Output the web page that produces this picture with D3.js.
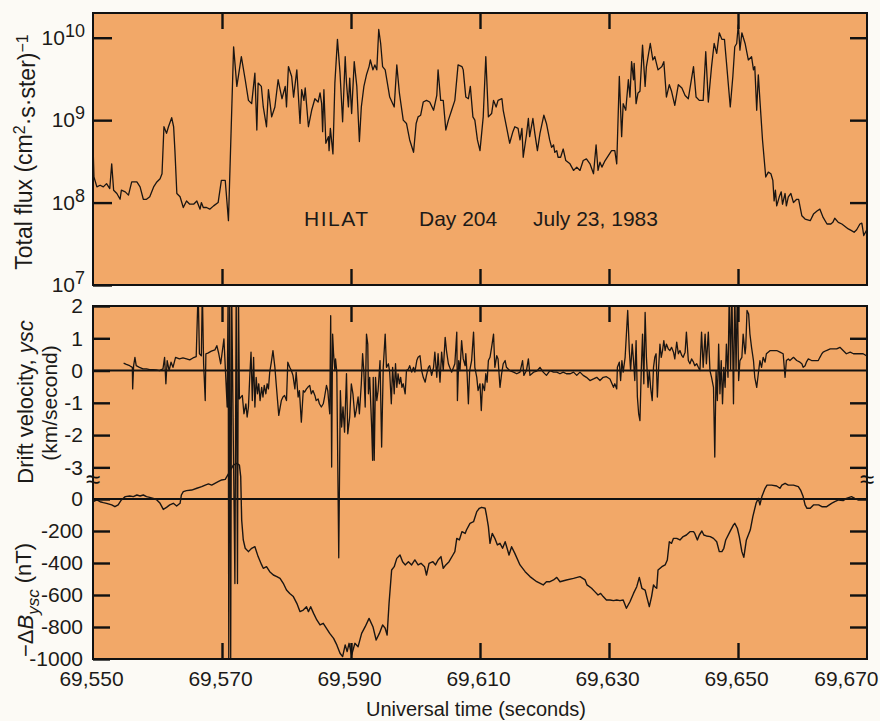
<!DOCTYPE html>
<html>
<head>
<meta charset="utf-8">
<script src="https://cdn.jsdelivr.net/npm/d3@7/dist/d3.min.js"></script>
<style>
  body { margin: 0; background: #fcfaf5; }
  svg { display: block; font-family: "Liberation Sans", Arial, sans-serif; }
  .tick text { font-size: 21px; fill: #1c1a18; }
  .tick line { stroke: #111; stroke-width: 2.4; }
</style>
</head>
<body>
<svg id="chart"></svg>
<script>
// time axis (seconds UT)
var timeTicks = [69550, 69570, 69590, 69610, 69630, 69650, 69670];
var fluxTicks = [1e7, 1e8, 1e9, 1e10];
var velTicks = [-3, -2, -1, 0, 1, 2];
var dbTicks = [-1000, -800, -600, -400, -200, 0];

// total flux, [time, log10(flux)]
var flux = [
  [69550.0,8.70],[69550.15,8.31],[69550.6,8.19],[69551.1,8.21],[69551.6,8.19],[69552.1,8.23],[69552.6,8.17],[69552.9,8.47],
  [69553.2,8.15],[69553.7,8.11],[69554.2,8.04],[69554.4,8.15],[69555.0,8.13],[69555.5,8.09],[69556.0,8.25],[69556.8,8.25],
  [69557.3,8.19],[69557.8,8.04],[69558.3,8.04],[69558.8,8.07],[69559.4,8.19],[69559.9,8.25],[69560.4,8.29],[69560.7,8.35],
  [69561.0,8.92],[69561.4,8.84],[69561.7,8.92],[69562.2,9.03],[69562.5,8.92],[69562.7,8.63],[69563.0,8.11],[69563.5,8.07],
  [69564.0,7.94],[69564.5,8.02],[69565.0,7.98],[69565.6,7.98],[69566.1,8.02],[69566.6,7.92],[69566.8,8.00],[69567.1,7.94],
  [69567.6,7.94],[69568.1,7.92],[69568.7,7.96],[69569.4,8.00],[69569.9,8.27],[69570.5,8.27],[69571.0,7.78],[69571.8,9.89],
  [69572.3,9.41],[69573.0,9.77],[69573.6,9.49],[69574.1,9.24],[69574.6,9.20],[69575.1,9.57],[69575.4,8.88],[69575.6,9.45],
  [69576.1,9.41],[69576.4,9.16],[69576.9,8.92],[69577.2,9.37],[69577.7,9.04],[69578.2,9.16],[69578.7,9.49],[69579.3,9.26],
  [69579.8,9.41],[69580.0,9.16],[69580.3,9.65],[69580.8,9.53],[69581.1,9.28],[69581.6,9.61],[69582.1,8.96],[69582.35,9.37],
  [69582.7,9.24],[69582.9,9.39],[69583.1,9.20],[69583.4,8.92],[69583.9,9.12],[69584.4,9.26],[69584.9,9.22],[69585.2,9.33],
  [69585.45,9.20],[69585.6,8.86],[69585.8,9.37],[69586.1,8.72],[69586.5,8.80],[69586.6,8.63],[69586.8,8.90],[69587.2,8.59],
  [69587.5,9.45],[69587.9,9.98],[69588.3,9.57],[69588.7,8.98],[69589.1,9.77],[69589.3,9.45],[69589.6,9.16],[69589.8,9.51],
  [69590.1,9.08],[69590.5,9.71],[69590.9,9.41],[69591.3,8.74],[69591.6,9.16],[69592.0,9.41],[69592.4,9.55],[69592.8,9.65],
  [69593.0,9.73],[69593.4,9.61],[69593.7,9.67],[69594.0,9.61],[69594.3,10.10],[69594.6,9.93],[69594.9,9.65],[69595.3,9.61],
  [69596.0,9.28],[69596.7,9.16],[69597.1,9.67],[69597.5,9.33],[69598.1,9.00],[69598.6,8.96],[69599.1,8.76],[69599.7,8.61],
  [69600.1,8.96],[69600.4,9.04],[69600.8,9.06],[69601.2,9.22],[69601.7,9.24],[69602.2,9.22],[69602.8,9.12],[69603.3,9.30],
  [69603.5,9.61],[69603.9,9.24],[69604.3,9.24],[69604.7,8.88],[69605.1,9.00],[69605.6,9.12],[69606.1,9.24],[69606.6,9.67],
  [69607.2,9.65],[69607.4,9.61],[69607.8,9.28],[69608.2,9.26],[69608.5,9.41],[69608.9,9.04],[69609.2,9.00],[69609.6,8.76],
  [69610.0,8.63],[69610.5,9.04],[69610.9,9.77],[69611.3,9.04],[69611.8,9.08],[69612.1,9.24],[69612.5,9.16],[69612.8,9.24],
  [69613.4,9.26],[69613.6,9.12],[69614.1,8.92],[69614.6,8.72],[69615.1,8.86],[69615.4,8.92],[69615.9,8.90],[69616.2,8.76],
  [69616.5,8.90],[69616.7,8.55],[69617.2,8.82],[69617.5,9.02],[69617.7,8.80],[69618.2,9.02],[69618.5,8.84],[69618.9,8.63],
  [69619.3,8.84],[69619.9,9.06],[69620.3,8.96],[69620.8,8.76],[69621.1,8.67],[69621.4,8.70],[69621.6,8.61],[69621.9,8.63],
  [69622.1,8.55],[69622.5,8.55],[69622.9,8.65],[69623.3,8.51],[69623.95,8.47],[69624.5,8.39],[69625.0,8.43],[69625.5,8.39],
  [69626.0,8.51],[69626.5,8.53],[69627.05,8.47],[69627.6,8.35],[69628.0,8.70],[69628.3,8.39],[69628.6,8.49],[69628.9,8.43],
  [69629.4,8.51],[69629.9,8.57],[69630.4,8.63],[69630.9,8.63],[69631.2,8.47],[69631.6,9.53],[69631.96,8.80],[69632.2,9.20],
  [69632.6,9.12],[69633.0,9.49],[69633.25,9.28],[69633.5,9.71],[69633.8,9.49],[69633.9,9.69],[69634.2,9.20],[69634.5,9.33],
  [69634.8,9.35],[69635.2,9.91],[69635.6,9.41],[69635.8,9.65],[69636.4,9.93],[69636.8,9.73],[69637.1,9.77],[69637.6,9.61],
  [69638.2,9.65],[69638.5,9.71],[69638.9,9.28],[69639.35,9.43],[69639.7,9.35],[69640.2,9.18],[69640.75,9.43],[69641.3,9.39],
  [69641.8,9.30],[69642.3,9.26],[69643.1,9.65],[69643.5,9.28],[69644.0,9.24],[69644.6,9.24],[69645.0,9.83],[69645.4,9.22],
  [69645.9,9.65],[69646.3,9.93],[69646.7,9.81],[69647.1,10.06],[69647.5,9.98],[69647.9,9.98],[69648.2,9.71],[69648.8,9.16],
  [69649.2,9.53],[69649.5,9.89],[69649.8,9.93],[69650.05,10.16],[69650.3,9.85],[69650.6,10.06],[69651.1,9.93],[69651.6,9.73],
  [69652.1,9.77],[69652.4,9.61],[69652.6,9.65],[69652.9,9.12],[69653.15,9.55],[69653.4,9.24],[69653.8,8.76],[69654.3,8.31],
  [69654.7,8.37],[69655.1,8.35],[69655.4,8.27],[69655.6,8.02],[69655.8,8.15],[69656.0,7.96],[69656.4,8.07],[69656.7,8.13],
  [69656.9,7.98],[69657.3,8.11],[69657.5,7.96],[69657.8,8.07],[69658.2,8.11],[69658.6,8.00],[69659.1,8.04],[69659.4,8.04],
  [69659.9,7.84],[69660.4,7.80],[69661.2,7.78],[69661.7,7.86],[69662.3,7.90],[69662.7,7.92],[69663.2,7.82],[69663.8,7.74],
  [69664.4,7.74],[69664.7,7.76],[69665.0,7.81],[69665.55,7.76],[69666.1,7.74],[69666.6,7.71],[69667.1,7.68],[69667.6,7.66],
  [69668.0,7.64],[69668.4,7.67],[69668.9,7.74],[69669.2,7.75],[69669.5,7.60],[69669.9,7.66]
];

// drift velocity ysc, [time, km/s]
var vel = [
  [69554.75,0.23],[69555.17,0.19],[69555.68,0.15],[69556.1,0.10],[69556.15,-0.57],[69556.3,0.15],[69556.5,0.41],[69556.7,0.15],
  [69557.2,0.10],[69557.75,0.05],[69558.3,0.05],[69558.8,0.03],[69559.3,0.03],[69559.8,0.02],[69560.3,0.00],[69560.85,0.05],
  [69561.1,0.41],[69561.3,-0.41],[69561.5,0.31],[69561.8,0.00],[69562.1,0.26],[69562.4,0.10],[69562.8,0.41],[69563.4,0.36],
  [69563.95,0.39],[69564.5,0.36],[69565.0,0.33],[69565.5,0.39],[69566.0,0.43],[69566.3,2.5],[69566.5,0.52],[69566.8,0.46],
  [69566.95,2.5],[69567.15,0.21],[69567.4,-0.93],[69567.5,0.52],[69567.8,0.54],[69568.35,0.60],[69568.9,0.64],[69569.2,0.77],
  [69569.5,0.52],[69569.8,0.21],[69570.3,0.98],[69570.8,-1.13],[69570.95,2.5],[69571.05,-9.0],[69571.2,2.5],[69571.35,-9.0],
  [69571.5,2.5],[69572.0,-6.6],[69572.2,2.5],[69572.4,-6.6],[69572.55,2.5],[69572.7,-0.88],[69573.15,-0.77],[69573.4,-1.34],
  [69573.7,-1.03],[69573.9,-1.44],[69574.1,-1.13],[69574.3,-0.21],[69574.5,0.57],[69574.7,-0.93],[69574.9,0.41],[69575.1,-1.13],
  [69575.3,-0.21],[69575.5,-0.72],[69575.7,-0.41],[69575.9,-0.93],[69576.15,-0.52],[69576.35,-0.82],[69576.55,-0.46],[69576.8,-0.72],
  [69577.0,-0.41],[69577.2,-0.57],[69577.4,-0.05],[69577.65,0.26],[69577.9,0.62],[69578.2,0.10],[69578.4,-0.41],[69578.8,-1.39],
  [69579.2,-0.93],[69579.45,-0.82],[69579.7,-0.77],[69580.0,-0.93],[69580.2,0.26],[69580.5,0.10],[69580.75,0.00],[69581.0,-0.15],
  [69581.3,-0.57],[69581.5,-0.05],[69581.8,-0.82],[69582.0,-0.62],[69582.3,-1.60],[69582.6,-0.62],[69582.8,-0.67],[69583.1,-0.57],
  [69583.3,-0.52],[69583.6,-0.46],[69583.85,-0.72],[69584.1,-0.62],[69584.4,-0.77],[69584.6,-0.93],[69584.9,-0.88],[69585.1,-1.03],
  [69585.4,-1.13],[69585.7,-1.03],[69585.9,-0.82],[69586.2,-0.46],[69586.4,-0.62],[69586.7,-1.34],[69586.85,1.70],[69587.0,-2.99],
  [69587.15,1.13],[69587.3,0.52],[69587.5,0.00],[69587.6,0.36],[69587.8,-0.05],[69588.1,-5.8],[69588.35,-0.62],[69588.55,-1.75],
  [69588.76,-1.13],[69589.0,-1.91],[69589.3,-0.10],[69589.5,-1.96],[69589.8,-1.44],[69590.05,-0.41],[69590.3,-0.72],[69590.6,-1.44],
  [69590.8,-1.24],[69591.1,-0.82],[69591.3,-1.34],[69591.6,-0.41],[69591.8,0.52],[69592.0,-0.05],[69592.2,-1.13],[69592.4,1.13],
  [69592.6,0.82],[69592.7,-0.72],[69592.9,-0.21],[69593.2,-1.75],[69593.35,-2.78],[69593.45,-0.21],[69593.6,-2.78],[69593.8,-0.21],
  [69594.0,-0.93],[69594.2,-0.62],[69594.5,0.31],[69594.75,-2.37],[69595.0,0.10],[69595.3,1.13],[69595.5,0.10],[69595.8,0.21],
  [69596.0,-0.05],[69596.25,-1.03],[69596.45,0.10],[69596.7,-0.72],[69596.9,0.21],[69597.1,-0.52],[69597.3,-0.10],[69597.5,-0.41],
  [69597.7,-0.21],[69597.9,-0.52],[69598.1,-0.41],[69598.4,-0.72],[69598.6,0.00],[69598.9,0.05],[69599.1,0.15],[69599.4,-0.05],
  [69599.7,0.10],[69599.9,-0.05],[69600.2,0.31],[69600.4,0.41],[69600.7,0.46],[69600.95,0.00],[69601.2,-0.21],[69601.5,-0.36],
  [69601.7,-0.15],[69602.0,0.10],[69602.2,0.15],[69602.5,-0.15],[69602.8,0.10],[69603.0,0.57],[69603.3,-0.21],[69603.5,0.52],
  [69603.8,-0.36],[69604.05,0.57],[69604.3,0.00],[69604.6,1.03],[69604.8,0.62],[69605.1,0.21],[69605.3,0.10],[69605.6,-0.05],
  [69605.9,0.10],[69606.1,0.21],[69606.4,1.19],[69606.5,-0.93],[69606.7,0.31],[69606.9,0.00],[69607.15,0.93],[69607.4,0.36],
  [69607.7,0.15],[69607.8,0.52],[69608.0,-0.10],[69608.2,-1.03],[69608.4,0.00],[69608.7,0.31],[69609.0,1.19],[69609.2,0.10],
  [69609.5,-0.21],[69609.7,-0.62],[69610.0,-0.41],[69610.2,-1.24],[69610.4,-0.41],[69610.7,-0.62],[69610.9,-0.10],[69611.1,-0.36],
  [69611.3,0.31],[69611.55,0.41],[69611.8,0.72],[69612.1,1.13],[69612.3,0.10],[69612.6,0.46],[69612.8,0.36],[69613.1,-0.52],
  [69613.35,-0.10],[69613.6,0.21],[69613.9,0.31],[69614.1,0.10],[69614.6,0.00],[69615.2,-0.05],[69615.7,-0.10],[69616.2,-0.05],
  [69616.6,0.31],[69616.8,-0.15],[69617.2,0.00],[69617.5,0.36],[69617.75,-0.15],[69618.3,-0.05],[69618.8,-0.02],[69619.3,0.10],
  [69619.8,-0.05],[69620.3,-0.15],[69620.85,0.00],[69621.4,-0.05],[69621.9,-0.05],[69622.4,-0.10],[69622.9,-0.05],[69623.4,-0.10],
  [69624.0,-0.10],[69624.5,-0.05],[69625.0,-0.15],[69625.5,-0.05],[69626.0,-0.15],[69626.5,-0.21],[69627.05,-0.31],[69627.6,-0.26],
  [69628.1,-0.21],[69628.6,-0.31],[69629.1,-0.21],[69629.6,-0.19],[69630.15,-0.26],[69630.7,-0.52],[69630.9,-0.41],[69631.2,-0.57],
  [69631.3,0.10],[69631.6,0.26],[69631.8,-0.31],[69632.0,0.31],[69632.2,-0.05],[69632.5,0.41],[69632.7,1.13],[69632.9,1.86],
  [69633.15,0.62],[69633.35,0.00],[69633.6,0.82],[69633.8,0.31],[69634.0,-0.31],[69634.2,0.93],[69634.4,-0.82],[69634.6,-1.34],
  [69634.8,-1.55],[69635.0,0.00],[69635.2,1.13],[69635.4,-0.41],[69635.6,1.80],[69635.8,0.41],[69636.05,-0.52],[69636.25,0.00],
  [69636.45,-0.52],[69636.7,-0.93],[69636.9,0.10],[69637.1,0.41],[69637.3,0.52],[69637.5,-0.82],[69637.7,0.10],[69637.9,0.82],
  [69638.1,0.41],[69638.3,0.62],[69638.5,0.93],[69638.7,0.62],[69638.9,0.82],[69639.2,0.67],[69639.45,0.62],[69639.7,0.72],
  [69640.0,0.57],[69640.2,0.36],[69640.5,0.88],[69640.75,0.52],[69641.0,0.62],[69641.3,0.46],[69641.5,0.41],[69641.8,0.57],
  [69642.0,1.19],[69642.3,0.31],[69642.55,0.21],[69642.8,0.36],[69643.1,0.26],[69643.3,0.15],[69643.6,0.21],[69643.85,0.10],
  [69644.1,0.00],[69644.35,1.19],[69644.6,0.10],[69644.9,1.13],[69645.1,0.21],[69645.4,1.19],[69645.65,0.00],[69645.9,-0.21],
  [69646.2,-0.52],[69646.4,-2.68],[69646.6,0.00],[69646.8,-0.93],[69647.0,0.82],[69647.2,-0.72],[69647.4,0.31],[69647.6,-1.03],
  [69647.8,0.10],[69648.0,-0.52],[69648.2,0.82],[69648.45,-0.21],[69648.65,2.5],[69648.85,0.00],[69649.05,2.5],[69649.3,-1.03],
  [69649.5,2.5],[69649.7,0.00],[69649.9,2.5],[69650.1,-0.31],[69650.3,0.31],[69650.6,0.41],[69650.8,1.13],[69651.1,0.52],
  [69651.2,0.72],[69651.4,1.86],[69651.65,1.75],[69651.85,1.13],[69652.1,0.72],[69652.4,0.31],[69652.6,-0.21],[69652.9,-0.52],
  [69653.15,-0.10],[69653.4,0.31],[69653.65,0.10],[69653.9,0.41],[69654.2,0.26],[69654.4,0.52],[69655.0,0.62],[69655.5,0.62],
  [69656.0,0.62],[69656.5,0.57],[69657.0,0.52],[69657.3,-0.21],[69657.5,0.31],[69657.8,0.36],[69658.05,0.31],[69658.6,0.41],
  [69659.1,0.31],[69659.6,0.26],[69659.9,0.21],[69660.1,0.10],[69660.4,0.15],[69660.6,0.26],[69660.9,0.36],[69661.4,0.31],
  [69661.9,0.31],[69662.45,0.31],[69662.7,0.41],[69663.0,0.52],[69663.2,0.57],[69663.7,0.62],[69664.3,0.67],[69664.8,0.67],
  [69665.3,0.67],[69665.8,0.72],[69666.3,0.62],[69666.8,0.52],[69667.4,0.57],[69667.9,0.52],[69668.4,0.52],[69668.9,0.52],
  [69669.4,0.52],[69669.9,0.46]
];

// -delta B ysc, [time, nT]
var dB = [
  [69550.05,-17],[69550.6,-6],[69551.1,-17],[69551.6,-23],[69552.1,-27],[69552.9,-37],[69553.4,-48],[69553.9,-37],
  [69554.4,-6],[69555.0,15],[69555.7,19],[69556.25,15],[69556.8,25],[69557.3,19],[69557.8,25],[69558.3,15],
  [69558.8,10],[69559.35,4],[69559.9,-6],[69560.4,-27],[69560.9,-65],[69561.4,-52],[69561.9,-37],[69562.45,-27],
  [69562.97,-44],[69563.5,-27],[69563.7,25],[69564.0,46],[69564.5,52],[69565.3,56],[69566.1,67],[69566.85,77],
  [69567.4,87],[69567.9,94],[69568.4,87],[69568.9,98],[69569.4,108],[69569.95,119],[69570.5,123],[69571.2,171],
  [69571.75,212],[69572.3,223],[69572.7,212],[69572.9,140],[69573.05,-131],[69573.3,-256],[69573.6,-308],[69574.1,-329],
  [69574.6,-308],[69575.1,-298],[69575.6,-360],[69576.15,-412],[69576.4,-433],[69576.9,-423],[69577.4,-454],[69577.96,-475],
  [69578.5,-485],[69579.0,-496],[69579.5,-527],[69580.0,-569],[69580.5,-590],[69581.06,-610],[69581.6,-652],[69582.1,-704],
  [69582.6,-694],[69583.1,-673],[69583.4,-704],[69583.75,-673],[69584.2,-715],[69584.7,-756],[69585.2,-787],[69585.7,-777],
  [69586.2,-808],[69586.7,-840],[69587.3,-871],[69587.8,-912],[69588.3,-964],[69588.7,-985],[69589.1,-912],[69589.4,-954],
  [69589.7,-902],[69590.1,-975],[69590.6,-902],[69591.1,-923],[69591.65,-840],[69592.2,-798],[69592.8,-746],[69593.4,-798],
  [69593.9,-881],[69594.4,-840],[69594.9,-787],[69595.3,-808],[69595.6,-850],[69595.9,-652],[69596.3,-444],[69596.7,-423],
  [69597.1,-371],[69597.6,-350],[69598.0,-392],[69598.4,-412],[69598.9,-392],[69599.4,-412],[69599.9,-381],[69600.4,-412],
  [69600.85,-402],[69601.4,-423],[69601.7,-475],[69602.1,-402],[69602.7,-392],[69603.1,-412],[69603.5,-381],[69603.95,-360],
  [69604.3,-433],[69604.7,-412],[69605.2,-392],[69605.8,-350],[69606.1,-329],[69606.4,-246],[69606.8,-256],[69607.2,-204],
  [69607.7,-215],[69607.9,-194],[69608.45,-152],[69609.0,-142],[69609.5,-79],[69609.9,-58],[69610.25,-52],[69610.8,-58],
  [69611.0,-100],[69611.3,-173],[69611.55,-277],[69611.9,-215],[69612.3,-246],[69612.7,-287],[69613.1,-277],[69613.5,-308],
  [69613.9,-267],[69614.2,-308],[69614.5,-350],[69614.9,-298],[69615.4,-340],[69616.2,-412],[69617.0,-454],[69617.75,-485],
  [69618.8,-517],[69619.8,-537],[69620.3,-517],[69620.85,-517],[69621.4,-506],[69621.9,-490],[69622.4,-517],[69623.4,-506],
  [69624.5,-496],[69625.5,-485],[69626.3,-506],[69626.6,-537],[69627.3,-558],[69627.8,-579],[69628.3,-600],[69628.7,-590],
  [69629.1,-610],[69629.6,-631],[69630.15,-631],[69630.7,-635],[69631.2,-631],[69631.7,-635],[69632.2,-631],[69632.7,-683],
  [69633.25,-642],[69633.8,-590],[69634.3,-548],[69634.7,-490],[69635.1,-558],[69635.6,-569],[69635.85,-610],[69636.25,-673],
  [69636.6,-610],[69636.9,-537],[69637.1,-548],[69637.4,-558],[69637.6,-444],[69638.2,-423],[69638.7,-412],[69639.04,-381],
  [69639.35,-267],[69639.7,-277],[69640.0,-246],[69640.5,-246],[69641.0,-256],[69641.5,-235],[69642.0,-225],[69642.55,-204],
  [69643.1,-204],[69643.3,-215],[69643.7,-256],[69644.0,-225],[69644.4,-200],[69644.7,-225],[69645.1,-231],[69645.7,-235],
  [69646.2,-246],[69646.7,-267],[69647.1,-329],[69647.5,-329],[69647.8,-308],[69648.1,-256],[69648.75,-204],[69649.3,-162],
  [69649.5,-152],[69649.9,-183],[69650.2,-235],[69650.6,-329],[69650.9,-365],[69651.3,-256],[69651.9,-194],[69652.3,-110],
  [69652.8,-27],[69653.15,4],[69653.4,-37],[69653.7,15],[69654.2,67],[69654.5,87],[69655.2,87],[69656.0,81],
  [69656.5,67],[69656.8,87],[69657.3,98],[69657.8,87],[69658.6,87],[69659.35,77],[69659.7,56],[69660.1,15],
  [69660.4,-37],[69660.7,-58],[69661.2,-58],[69661.7,-37],[69662.5,-37],[69663.0,-48],[69663.75,-48],[69664.5,-27],
  [69665.0,-17],[69665.6,-6],[69666.3,-10],[69666.8,4],[69667.6,15],[69668.1,4],[69668.6,-6],[69669.4,-6],[69669.9,-6]
];

var width = 880, height = 721,
    left = 93, right = 867,
    topY0 = 13, topY1 = 285,
    botY0 = 306, botY1 = 659,
    panelFill = "#f2a868",
    ink = "#1c1a18";

var svg = d3.select("#chart").attr("width", width).attr("height", height);

var x = d3.scaleLinear().domain([69550, 69670]).range([left, right]);
var yFlux = d3.scaleLog().domain([1e7, Math.pow(10, 10.3)]).range([topY1, topY0]);
var yVel = d3.scaleLinear().domain([-9, 2]).range([661, botY0]);
var yDB = d3.scaleLinear().domain([-1000, 0]).range([botY1, 499]);

// panel backgrounds
svg.append("rect").attr("x", left).attr("y", topY0).attr("width", right - left).attr("height", topY1 - topY0)
    .attr("fill", panelFill);
svg.append("rect").attr("x", left).attr("y", botY0).attr("width", right - left).attr("height", botY1 - botY0)
    .attr("fill", panelFill);

var defs = svg.append("defs");
defs.append("clipPath").attr("id", "clipTop").append("rect")
    .attr("x", left).attr("y", topY0).attr("width", right - left).attr("height", topY1 - topY0);
defs.append("clipPath").attr("id", "clipBot").append("rect")
    .attr("x", left).attr("y", botY0).attr("width", right - left).attr("height", botY1 - botY0);

// zero lines
svg.append("line").attr("x1", left).attr("x2", right).attr("y1", yVel(0)).attr("y2", yVel(0))
    .attr("stroke", "#111").attr("stroke-width", 2);
svg.append("line").attr("x1", left).attr("x2", right).attr("y1", yDB(0)).attr("y2", yDB(0))
    .attr("stroke", "#111").attr("stroke-width", 2);

// traces
svg.append("path").datum(flux)
    .attr("clip-path", "url(#clipTop)")
    .attr("fill", "none").attr("stroke", "#1a1512").attr("stroke-width", 1.3).attr("stroke-linejoin", "round")
    .attr("d", d3.line().x(function(d){ return x(d[0]); }).y(function(d){ return yFlux(Math.pow(10, d[1])); }));

svg.append("path").datum(dB)
    .attr("clip-path", "url(#clipBot)")
    .attr("fill", "none").attr("stroke", "#1a1512").attr("stroke-width", 1.4).attr("stroke-linejoin", "round")
    .attr("d", d3.line().x(function(d){ return x(d[0]); }).y(function(d){ return yDB(d[1]); }));

svg.append("path").datum(vel)
    .attr("clip-path", "url(#clipBot)")
    .attr("fill", "none").attr("stroke", "#1a1512").attr("stroke-width", 1.3).attr("stroke-linejoin", "round")
    .attr("d", d3.line().x(function(d){ return x(d[0]); }).y(function(d){ return yVel(d[1]); }));

// axes
function clean(g){ g.select(".domain").remove(); }
var inner = timeTicks.slice(1, -1);

svg.append("g").attr("transform", "translate(0," + topY0 + ")")
    .call(d3.axisTop(x).tickValues(inner).tickSize(-16).tickFormat("")).call(clean);
svg.append("g").attr("transform", "translate(0," + topY1 + ")")
    .call(d3.axisBottom(x).tickValues(inner).tickSize(-16).tickFormat("")).call(clean);
svg.append("g").attr("transform", "translate(0," + botY0 + ")")
    .call(d3.axisTop(x).tickValues(inner).tickSize(-16).tickFormat("")).call(clean);

var xb = svg.append("g").attr("transform", "translate(0," + botY1 + ")")
    .call(d3.axisBottom(x).tickValues(timeTicks).tickSize(-16).tickPadding(12).tickFormat(d3.format(",")))
    .call(clean);
xb.selectAll(".tick text").attr("dx", -2);
xb.selectAll(".tick").filter(function(d){ return d === 69550 || d === 69670; }).select("line").remove();
// last label sits inside the page edge, as in the original
xb.selectAll(".tick").filter(function(d){ return d === 69670; }).select("text")
    .attr("text-anchor", "end").attr("dx", 11);

// flux axis with 10^n labels
svg.append("g").attr("transform", "translate(" + left + ",0)")
    .call(d3.axisLeft(yFlux).tickValues(fluxTicks).tickSize(-19).tickPadding(8).tickFormat(function(){ return ""; }))
    .call(clean)
    .selectAll(".tick text").each(function(d){
        var t = d3.select(this);
        t.text("10");
        t.append("tspan").attr("dy", "-0.45em").attr("font-size", "18px").text(Math.round(Math.log10(d)));
    });
svg.append("g").attr("transform", "translate(" + right + ",0)")
    .call(d3.axisRight(yFlux).tickValues(fluxTicks.slice(1)).tickSize(-17).tickFormat("")).call(clean);

svg.append("g").attr("transform", "translate(" + left + ",0)")
    .call(d3.axisLeft(yVel).tickValues(velTicks).tickSize(-17).tickPadding(10).tickFormat(function(d){ return String(d); }))
    .call(clean);
svg.append("g").attr("transform", "translate(" + right + ",0)")
    .call(d3.axisRight(yVel).tickValues([-3, -2, -1, 1]).tickSize(-17).tickFormat("")).call(clean);

svg.append("g").attr("transform", "translate(" + left + ",0)")
    .call(d3.axisLeft(yDB).tickValues(dbTicks).tickSize(-17).tickPadding(10).tickFormat(function(d){ return String(d); }))
    .call(clean);
svg.append("g").attr("transform", "translate(" + right + ",0)")
    .call(d3.axisRight(yDB).tickValues([-800, -600, -400, -200]).tickSize(-17).tickFormat("")).call(clean);

// frames
[[topY0, topY1], [botY0, botY1]].forEach(function(p){
    svg.append("rect").attr("x", left).attr("y", p[0]).attr("width", right - left).attr("height", p[1] - p[0])
        .attr("fill", "none").attr("stroke", "#111").attr("stroke-width", 2);
});

// axis break marks
[left, right].forEach(function(px){
    svg.append("text").attr("x", px).attr("y", 488).attr("text-anchor", "middle")
        .attr("font-size", "26px").attr("fill", "#111").text("\u2248");
});

// annotation
var note = svg.append("g").attr("font-size", "21px").attr("fill", ink);
note.append("text").attr("x", 304).attr("y", 226).attr("letter-spacing", "1.5px").text("HILAT");
note.append("text").attr("x", 419).attr("y", 226).text("Day 204");
note.append("text").attr("x", 533).attr("y", 226).text("July 23, 1983");

// axis titles
var t1 = svg.append("text").attr("transform", "translate(32,152) rotate(-90)")
    .attr("text-anchor", "middle").attr("font-size", "23px").attr("fill", ink);
t1.append("tspan").text("Total flux (cm");
t1.append("tspan").attr("dy", "-0.45em").attr("font-size", "16px").text("2");
t1.append("tspan").attr("dy", "0.45em").text("\u00b7s\u00b7ster)");
t1.append("tspan").attr("dy", "-0.45em").attr("font-size", "16px").text("\u22121");

var t2 = svg.append("text").attr("transform", "translate(33,402) rotate(-90)")
    .attr("text-anchor", "middle").attr("font-size", "22px").attr("fill", ink);
t2.append("tspan").text("Drift velocity, ");
t2.append("tspan").attr("font-style", "italic").text("ysc");
svg.append("text").attr("transform", "translate(57,403) rotate(-90)")
    .attr("text-anchor", "middle").attr("font-size", "21px").attr("fill", ink).text("(km/second)");

var t3 = svg.append("text").attr("transform", "translate(33,600) rotate(-90)")
    .attr("text-anchor", "middle").attr("font-size", "22px").attr("fill", ink);
t3.append("tspan").text("\u2212\u0394");
t3.append("tspan").attr("font-style", "italic").text("B");
t3.append("tspan").attr("font-style", "italic").attr("dy", "0.35em").attr("font-size", "17px").text("ysc");
t3.append("tspan").attr("dy", "-0.35em").text(" (nT)");

svg.append("text").attr("x", 476).attr("y", 716).attr("text-anchor", "middle")
    .attr("font-size", "20px").attr("fill", ink).text("Universal time (seconds)");
</script>
</body>
</html>
